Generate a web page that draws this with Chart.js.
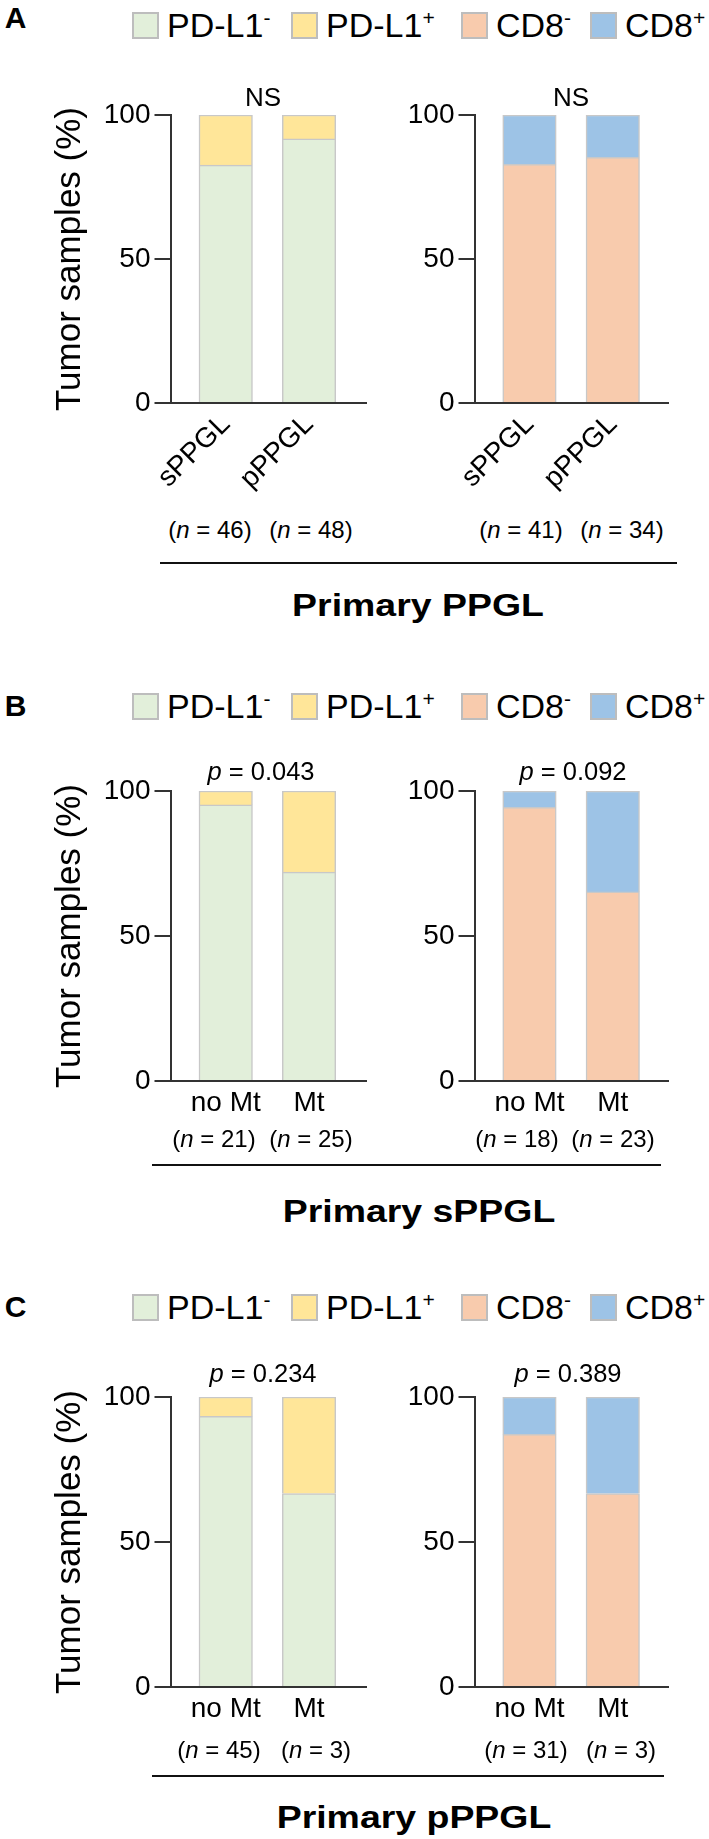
<!DOCTYPE html>
<html>
<head>
<meta charset="utf-8">
<script src="https://cdn.jsdelivr.net/npm/chart.js@4.4.1/dist/chart.umd.min.js"></script>
<style>
  body { margin: 0; background: #fff; }
  #fig { position: relative; width: 709px; height: 1839px; overflow: hidden;
         font-family: 'Liberation Sans', Arial, sans-serif; color: #000; }
  canvas { position: absolute; }
  .t { position: absolute; line-height: 1; white-space: nowrap; transform: translate(-50%, -50%); }
  .letter { font-weight: bold; font-size: 30px; }
  .box { position: absolute; width: 27px; height: 27px; box-sizing: border-box; border: 2px solid #bdbdbd; }
  .lab { position: absolute; font-size: 34px; line-height: 1; white-space: nowrap; transform: translateY(-50%); }
  .sup { font-size: 0.62em; position: relative; top: -0.55em; }
  .rule { position: absolute; height: 2.5px; background: #111; }
  .sub { font-weight: bold; font-size: 32px; transform: translate(-50%, -50%) scaleX(1.17); }
  .pv { font-size: 25.5px; }
  .nn { font-size: 24px; }
</style>
</head>
<body>
<div id="fig"></div>
<script>
// categories
const groupsA = ['sPPGL', 'pPPGL'];
const groupsBC = ['no Mt', 'Mt'];
const yTicks = [0, 50, 100];

// % of tumor samples, panel A (primary PPGL)
const pdl1NegA = [82.6, 91.7];
const pdl1PosA = [17.4, 8.3];
const cd8NegA = [82.9, 85.3];
const cd8PosA = [17.1, 14.7];
const nPdl1A = [46, 48];
const nCd8A = [41, 34];

// panel B (primary sPPGL)
const pdl1NegB = [95.2, 72.0];
const pdl1PosB = [4.8, 28.0];
const cd8NegB = [94.4, 65.2];
const cd8PosB = [5.6, 34.8];
const nPdl1B = [21, 25];
const nCd8B = [18, 23];

// panel C (primary pPPGL)
const pdl1NegC = [93.3, 66.7];
const pdl1PosC = [6.7, 33.3];
const cd8NegC = [87.1, 66.7];
const cd8PosC = [12.9, 33.3];
const nPdl1C = [45, 3];
const nCd8C = [31, 3];

const letters = ['A', 'B', 'C'];
const pTexts = [['NS', 'NS'], ['0.043', '0.092'], ['0.234', '0.389']];
const subtitles = ['Primary PPGL', 'Primary sPPGL', 'Primary pPPGL'];

Chart.defaults.font.family = "'Liberation Sans', Arial, sans-serif";
Chart.defaults.color = '#000';

const COL = { pdNeg: '#e2efda', pdPos: '#ffe699', cdNeg: '#f8cbad', cdPos: '#9dc3e6', edge: '#c8c8c8', axis: '#333' };

// layout of the three panels (pixel positions of the plot areas and labels)
const panels = [
  { top: 115, bottom: 403, xh: 110, rot: 45, cats: groupsA,
    left: [pdl1NegA, pdl1PosA, nPdl1A], right: [cd8NegA, cd8PosA, nCd8A],
    letterY: 18, legY: 25, pY: 97, pX: [263, 571], nY: 530, nX: [210, 311, 521, 622],
    rule: [160, 677, 563], sub: [418, 605] },
  { top: 791, bottom: 1081, xh: 50, rot: 0, cats: groupsBC,
    left: [pdl1NegB, pdl1PosB, nPdl1B], right: [cd8NegB, cd8PosB, nCd8B],
    letterY: 706, legY: 706, pY: 772, pX: [261, 573], nY: 1139, nX: [214, 311, 517, 613],
    rule: [152, 661, 1165], sub: [419, 1211] },
  { top: 1397, bottom: 1687, xh: 50, rot: 0, cats: groupsBC,
    left: [pdl1NegC, pdl1PosC, nPdl1C], right: [cd8NegC, cd8PosC, nCd8C],
    letterY: 1307, legY: 1307, pY: 1374, pX: [263, 568], nY: 1750, nX: [219, 316, 526, 621],
    rule: [152, 664, 1776], sub: [414, 1817] }
];

const fig = document.getElementById('fig');

function addEl(cls, html, x, y, extra) {
  const d = document.createElement('div');
  d.className = cls;
  d.innerHTML = html;
  d.style.left = x + 'px';
  d.style.top = y + 'px';
  if (extra) Object.assign(d.style, extra);
  fig.appendChild(d);
  return d;
}

function makeChart(o) {
  const cv = document.createElement('canvas');
  cv.width = o.w;
  cv.height = o.h;
  cv.style.left = o.x + 'px';
  cv.style.top = o.y + 'px';
  fig.appendChild(cv);
  const ds = (vals, color) => ({
    data: vals.map((v, i) => ({ x: i, y: v })),
    backgroundColor: color, borderColor: COL.edge, borderWidth: 1.5,
    barThickness: 53.5, stack: 's'
  });
  return new Chart(cv, {
    type: 'bar',
    data: { datasets: [ds(o.neg, o.c1), ds(o.pos, o.c2)] },
    options: {
      responsive: false, animation: false,
      layout: { padding: { top: 30, left: o.padL, right: o.padR, bottom: 0 } },
      plugins: { legend: { display: false }, tooltip: { enabled: false } },
      scales: {
        x: {
          type: 'linear', stacked: true, min: o.xmin, max: o.xmax, offset: false,
          afterBuildTicks: s => { s.ticks = o.cats.map((_, i) => ({ value: i })); },
          afterFit: s => { s.height = o.xh; },
          ticks: { callback: v => o.cats[v], font: { size: 28 }, padding: 5,
                   minRotation: o.rot, maxRotation: o.rot, autoSkip: false },
          grid: { display: true, drawOnChartArea: false, drawTicks: false },
          border: { display: true, color: COL.axis, width: 2 }
        },
        y: {
          stacked: true, min: 0, max: 100,
          afterBuildTicks: s => { s.ticks = yTicks.map(v => ({ value: v })); },
          afterFit: s => { s.width = o.yw; },
          ticks: { font: { size: 28 }, padding: 4 },
          grid: { display: true, drawOnChartArea: false, drawTicks: true, tickLength: 16,
                  color: COL.axis, lineWidth: 2 },
          border: { display: true, color: COL.axis, width: 2 },
          title: { display: o.title, text: 'Tumor samples (%)', font: { size: 35, lineHeight: 1 }, padding: 0 }
        }
      }
    }
  });
}

const legendItems = [
  ['PD-L1', '-', COL.pdNeg], ['PD-L1', '+', COL.pdPos],
  ['CD8', '-', COL.cdNeg], ['CD8', '+', COL.cdPos]
];
const legendX = [132, 291, 461, 590];

panels.forEach((p, k) => {
  const h = p.bottom - p.top + 30 + p.xh;
  makeChart({ x: 0, y: p.top - 30, w: 380, h, padL: 52.5, padR: 14, yw: 118, xh: p.xh,
              xmin: -0.663, xmax: 1.684, rot: p.rot, cats: p.cats, title: true,
              neg: p.left[0], pos: p.left[1], c1: COL.pdNeg, c2: COL.pdPos });
  makeChart({ x: 380, y: p.top - 30, w: 329, h, padL: 0, padR: 41, yw: 94.5, xh: p.xh,
              xmin: -0.66, xmax: 1.663, rot: p.rot, cats: p.cats, title: false,
              neg: p.right[0], pos: p.right[1], c1: COL.cdNeg, c2: COL.cdPos });

  addEl('t letter', letters[k], 15.5, p.letterY);

  legendItems.forEach((it, i) => {
    addEl('box', '', legendX[i], p.legY - 13.5, { background: it[2] });
    addEl('lab', it[0] + '<span class="sup">' + it[1] + '</span>', legendX[i] + 35, p.legY);
  });

  pTexts[k].forEach((s, i) => {
    const html = s === 'NS' ? 'NS' : '<i>p</i> = ' + s;
    addEl('t pv', html, p.pX[i], p.pY, s === 'NS' ? { fontSize: '26px' } : null);
  });

  const ns = p.left[2].concat(p.right[2]);
  ns.forEach((n, i) => addEl('t nn', '(<i>n</i> = ' + n + ')', p.nX[i], p.nY));

  addEl('rule', '', p.rule[0], p.rule[2] - 1.25, { width: (p.rule[1] - p.rule[0]) + 'px' });
  addEl('t sub', subtitles[k], p.sub[0], p.sub[1]);
});
</script>
</body>
</html>
